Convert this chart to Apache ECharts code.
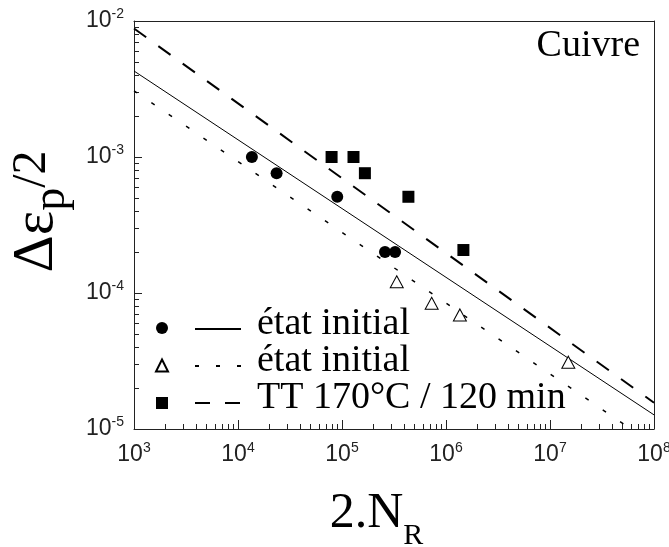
<!DOCTYPE html>
<html>
<head>
<meta charset="utf-8">
<script src="https://cdn.jsdelivr.net/npm/echarts@6/dist/echarts.min.js"></script>
<style>
  html, body { margin: 0; background: #fff; }
  #chart { width: 669px; height: 547px; }
</style>
</head>
<body>
<div id="chart"></div>
<script>
// ── data (2.N_R vs Δεp/2, log-log) ──
const etatInitialPts = [[1.36e4, 1e-3], [2.35e4, 7.6e-4], [9.0e4, 5.1e-4], [2.59e5, 2.0e-4], [3.24e5, 2.0e-4]];
const etatInitialFit = [[1e3, 4.29e-3], [1e8, 1.27e-5]];
const trianglePts = [[3.36e5, 1.21e-4], [7.28e5, 8.4e-5], [1.36e6, 6.9e-5], [1.5e7, 3.1e-5]];
const triangleFit = [[1e3, 3.07e-3], [6.0e7, 1e-5]];
const ttPts = [[7.94e4, 1e-3], [1.29e5, 1e-3], [1.66e5, 7.6e-4], [4.35e5, 5.1e-4], [1.47e6, 2.07e-4]];
const ttFit = [[1e3, 8.8e-3], [1e8, 1.56e-5]];
const legendLabels = { fit1: 'état initial', fit2: 'état initial', fit3: 'TT 170°C / 120 min' };
const xExtent = [1e3, 1e8];
const yExtent = [1e-5, 1e-2];
const xExp = [3, 8];   // same range as exponents, for the tick/frame overlay axes
const yExp = [-5, -2];

// minor tick positions (2..9 per decade), in exponent space
function minorExps(lo, hi) {
  const out = [];
  for (let k = lo; k < hi; k++) for (let m = 2; m <= 9; m++) out.push(k + Math.log10(m));
  return out;
}

const SERIF = "'Liberation Serif', 'Times New Roman', serif";
const SANS = "'Liberation Sans', Arial, sans-serif";
const INK = '#000';
const AX = '#222';

const powLabel = v => '{b|10}{e|' + Math.round(Math.log10(v)) + '}';
const powRich = {
  b: { fontSize: 23, fontFamily: SANS, color: AX },
  e: { fontSize: 14, fontFamily: SANS, color: AX, padding: [0, 0, 14, 0] },
};

// helper for the overlay value axes (minor ticks, top/right frame)
function overlay(range, position, tick, line) {
  return {
    type: 'value', min: range[0], max: range[1], position: position, gridIndex: 0,
    axisLine: { show: line, onZero: false, lineStyle: { color: AX, width: 1 } },
    axisLabel: { show: false }, splitLine: { show: false },
    axisTick: tick ? { show: true, inside: true, length: 5, customValues: minorExps(range[0], range[1]), lineStyle: { color: AX } } : { show: false },
  };
}

const chart = echarts.init(document.getElementById('chart'));
chart.setOption({
  animation: false,
  backgroundColor: '#fff',
  color: [INK],
  title: {
    text: 'Cuivre', right: 29, top: 26, padding: 0,
    textStyle: { fontFamily: SERIF, fontSize: 38, fontWeight: 'normal', color: INK, lineHeight: 40 },
  },
  grid: { left: 134, top: 21, right: 15, bottom: 118, outerBoundsMode: 'none' },
  xAxis: [{
    type: 'log', min: xExtent[0], max: xExtent[1], logBase: 10, position: 'bottom',
    axisLine: { onZero: false, lineStyle: { color: AX, width: 1 } },
    axisTick: { show: true, inside: true, length: 9, lineStyle: { color: AX } },
    splitLine: { show: false },
    axisLabel: { formatter: powLabel, rich: powRich, margin: 12, showMinLabel: true, showMaxLabel: true },
    name: '{a|2.N}{s|R}', nameLocation: 'middle', nameGap: 60,
    nameTextStyle: {
      padding: [0, 35, 0, 0],
      rich: {
        a: { fontFamily: SERIF, fontSize: 50, color: INK, lineHeight: 50, verticalAlign: 'top' },
        s: { fontFamily: SERIF, fontSize: 30, color: INK, lineHeight: 30, verticalAlign: 'top', padding: [32, 0, 0, 0] },
      },
    },
  }, overlay(xExp, 'bottom', true, false), overlay(xExp, 'top', false, true)],
  yAxis: [{
    type: 'log', min: yExtent[0], max: yExtent[1], logBase: 10, position: 'left',
    axisLine: { onZero: false, lineStyle: { color: AX, width: 1 } },
    axisTick: { show: true, inside: true, length: 8, lineStyle: { color: AX } },
    splitLine: { show: false },
    axisLabel: { formatter: powLabel, rich: powRich, margin: 10, showMinLabel: true, showMaxLabel: true },
    name: '{a|Δε}{p|p}{b|/2}', nameLocation: 'middle', nameRotate: 90, nameGap: 63,
    nameTextStyle: {
      padding: [0, 0, 0, 27],
      rich: {
        a: { fontFamily: SERIF, fontSize: 58, color: INK, lineHeight: 56, verticalAlign: 'top' },
        p: { fontFamily: SERIF, fontSize: 46, color: INK, lineHeight: 44, verticalAlign: 'top', padding: [21, 0, 0, 0] },
        b: { fontFamily: SERIF, fontSize: 48, color: INK, lineHeight: 56, verticalAlign: 'top' },
      },
    },
  }, overlay(yExp, 'left', true, false), overlay(yExp, 'right', false, true)],
  legend: [{
    data: ['pts1', 'pts2', 'pts3'], orient: 'vertical', left: 155, top: 322, padding: 0,
    itemWidth: 12, itemHeight: 12, itemGap: 24.5, selectedMode: false,
    itemStyle: { opacity: 1 },
    formatter: () => '', textStyle: { fontSize: 1, lineHeight: 12 },
  }, {
    data: ['fit1', 'fit2', 'fit3'], orient: 'vertical', left: 194, top: 305, padding: 0,
    itemWidth: 46, itemHeight: 12, itemGap: -1, selectedMode: false,
    formatter: n => '{t|' + legendLabels[n] + '}',
    lineStyle: { width: 2, opacity: 1 },
    itemStyle: { color: 'rgba(0,0,0,0)', borderWidth: 0 },
    textStyle: {
      rich: { t: { fontFamily: SERIF, fontSize: 38, color: INK, padding: [0, 0, 10, 11] } },
    },
  }],
  series: [
    { name: 'fit1', type: 'line', data: etatInitialFit, symbol: 'none', lineStyle: { color: INK, width: 1 }, itemStyle: { color: INK }, z: 2 },
    { name: 'fit2', type: 'line', data: triangleFit, symbol: 'none', lineStyle: { color: INK, width: 1.5, type: [4, 17] }, itemStyle: { color: INK }, z: 2 },
    { name: 'fit3', type: 'line', data: ttFit, symbol: 'none', lineStyle: { color: INK, width: 2, type: [15, 15] }, itemStyle: { color: INK }, z: 2 },
    { name: 'pts1', type: 'scatter', data: etatInitialPts, symbol: 'circle', symbolSize: 12, itemStyle: { color: INK, opacity: 1 }, z: 3 },
    { name: 'pts2', type: 'scatter', data: trianglePts, symbol: 'triangle', symbolSize: [13, 12], itemStyle: { color: '#fff', borderColor: INK, borderWidth: 1, opacity: 1 }, z: 3 },
    { name: 'pts3', type: 'scatter', data: ttPts, symbol: 'rect', symbolSize: 12, itemStyle: { color: INK, opacity: 1 }, z: 3 },
  ],
});
</script>
</body>
</html>
